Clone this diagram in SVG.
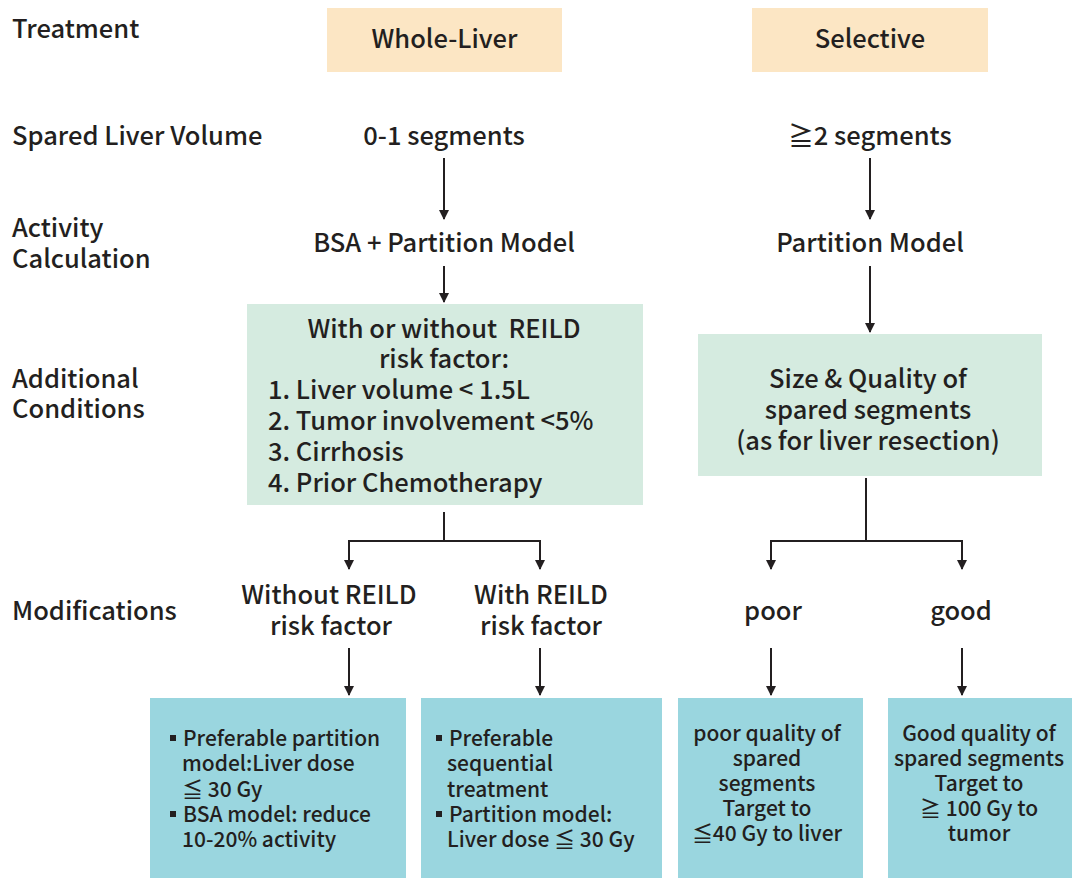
<svg xmlns="http://www.w3.org/2000/svg" width="1072" height="878" viewBox="0 0 1072 878">
<style>
text{font-family:"Noto Sans CJK SC","Noto Sans",sans-serif;fill:#231f20;font-weight:500}
.m{font-size:25.5px}
.s{font-size:21px}
.c{text-anchor:middle}
.b{fill:#231f20}
.conn line{stroke:#231f20;stroke-width:2;fill:none}
</style>
<defs>
<marker id="a" viewBox="0 0 10 10" refX="9" refY="5" markerWidth="5" markerHeight="5" orient="auto" markerUnits="strokeWidth">
<path d="M0,0L10,5L0,10z" fill="#231f20"/>
</marker>
</defs>
<rect width="1072" height="878" fill="#fff"/>
<g id="labels">
<text class="m" x="12" y="38">Treatment</text>
<text class="m" x="12" y="145">Spared Liver Volume</text>
<text class="m" x="12" y="237">Activity</text>
<text class="m" x="12" y="268">Calculation</text>
<text class="m" x="12" y="388">Additional</text>
<text class="m" x="12" y="418">Conditions</text>
<text class="m" x="12" y="620">Modifications</text>
</g>
<g id="whole-liver">
<rect x="327" y="8" width="235" height="64" fill="#fce6c4"/>
<text class="m c" x="444.5" y="48">Whole-Liver</text>
</g>
<g id="selective">
<rect x="752" y="8" width="236" height="64" fill="#fce6c4"/>
<text class="m c" x="870" y="48">Selective</text>
</g>
<g id="seg01"><text class="m c" x="444" y="145">0-1 segments</text></g>
<g id="seg2"><text class="m c" x="870" y="145">≧2 segments</text></g>
<g id="bsa"><text class="m c" x="444" y="252">BSA + Partition Model</text></g>
<g id="partition"><text class="m c" x="870" y="252">Partition Model</text></g>
<g id="reild">
<rect x="247" y="304" width="396" height="201" fill="#d5ebe0"/>
<text class="m c" x="444" y="338" xml:space="preserve">With or without  REILD</text>
<text class="m c" x="444" y="368">risk factor:</text>
<text class="m" x="268" y="399">1. Liver volume &lt; 1.5L</text>
<text class="m" x="268" y="430">2. Tumor involvement &lt;5%</text>
<text class="m" x="268" y="461">3. Cirrhosis</text>
<text class="m" x="268" y="492">4. Prior Chemotherapy</text>
</g>
<g id="sizequality">
<rect x="698" y="334" width="344" height="142" fill="#d5ebe0"/>
<text class="m c" x="868" y="388">Size &amp; Quality of</text>
<text class="m c" x="868" y="419">spared segments</text>
<text class="m c" x="868" y="450">(as for liver resection)</text>
</g>
<g id="without"><text class="m c" x="329" y="604">Without REILD</text><text class="m c" x="331" y="635">risk factor</text></g>
<g id="with"><text class="m c" x="541" y="604">With REILD</text><text class="m c" x="541" y="635">risk factor</text></g>
<g id="poor"><text class="m c" x="773" y="620">poor</text></g>
<g id="good"><text class="m c" x="961" y="620">good</text></g>
<g id="box-without">
<rect x="150" y="698" width="256" height="180" fill="#9ad6df"/>
<rect class="b" x="170" y="735" width="6" height="6"/>
<text class="s" x="183" y="746">Preferable partition</text>
<text class="s" x="182" y="771">model:Liver dose</text>
<text class="s" x="182" y="797">≦ 30 Gy</text>
<rect class="b" x="170" y="811" width="6" height="6"/>
<text class="s" x="183" y="822">BSA model: reduce</text>
<text class="s" x="182" y="847">10-20% activity</text>
</g>
<g id="box-with">
<rect x="421" y="698" width="241" height="180" fill="#9ad6df"/>
<rect class="b" x="436" y="735" width="6" height="6"/>
<text class="s" x="449" y="746">Preferable</text>
<text class="s" x="447" y="771">sequential</text>
<text class="s" x="447" y="797">treatment</text>
<rect class="b" x="436" y="811" width="6" height="6"/>
<text class="s" x="449" y="822">Partition model:</text>
<text class="s" x="447" y="847">Liver dose ≦ 30 Gy</text>
</g>
<g id="box-poor">
<rect x="678" y="698" width="185" height="180" fill="#9ad6df"/>
<text class="s c" x="767" y="741">poor quality of</text>
<text class="s c" x="767" y="766">spared</text>
<text class="s c" x="767" y="791">segments</text>
<text class="s c" x="767" y="816">Target to</text>
<text class="s c" x="767" y="841">≦40 Gy to liver</text>
</g>
<g id="box-good">
<rect x="888" y="698" width="184" height="180" fill="#9ad6df"/>
<text class="s c" x="979" y="741">Good quality of</text>
<text class="s c" x="979" y="766">spared segments</text>
<text class="s c" x="979" y="791">Target to</text>
<text class="s c" x="979" y="816">≧ 100 Gy to</text>
<text class="s c" x="979" y="841">tumor</text>
</g>
<g class="conn" id="connectors">
<line x1="444" y1="158" x2="444" y2="219" marker-end="url(#a)"/>
<line x1="870" y1="158" x2="870" y2="219" marker-end="url(#a)"/>
<line x1="444" y1="266" x2="444" y2="302" marker-end="url(#a)"/>
<line x1="870" y1="266" x2="870" y2="332" marker-end="url(#a)"/>
<line x1="444" y1="512" x2="444" y2="541"/>
<line x1="348" y1="541" x2="541" y2="541"/>
<line x1="349" y1="540" x2="349" y2="569" marker-end="url(#a)"/>
<line x1="540" y1="540" x2="540" y2="569" marker-end="url(#a)"/>
<line x1="866" y1="478" x2="866" y2="541"/>
<line x1="770" y1="541" x2="963" y2="541"/>
<line x1="771" y1="540" x2="771" y2="569" marker-end="url(#a)"/>
<line x1="962" y1="540" x2="962" y2="569" marker-end="url(#a)"/>
<line x1="349" y1="648" x2="349" y2="695" marker-end="url(#a)"/>
<line x1="540" y1="648" x2="540" y2="695" marker-end="url(#a)"/>
<line x1="771" y1="648" x2="771" y2="695" marker-end="url(#a)"/>
<line x1="962" y1="648" x2="962" y2="695" marker-end="url(#a)"/>
</g>
</svg>
